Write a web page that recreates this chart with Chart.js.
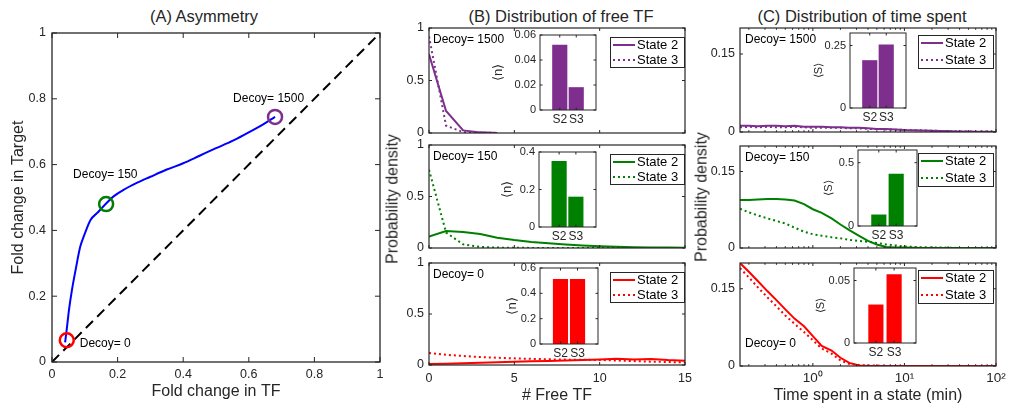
<!DOCTYPE html>
<html>
<head>
<meta charset="utf-8">
<script src="https://cdn.jsdelivr.net/npm/chart.js@4.4.1/dist/chart.umd.min.js"></script>
<style>
  body { margin: 0; width: 1014px; height: 409px; background: #fff; position: relative; overflow: hidden;
         font-family: 'Liberation Sans', Arial, Helvetica, sans-serif; }
  canvas { position: absolute; }
  .ttl { position: absolute; top: 6px; font-size: 16.5px; line-height: 20px; color: #262626;
         white-space: nowrap; transform: translateX(-50%); }
  .ylab { position: absolute; font-size: 16px; line-height: 19px; color: #262626; white-space: nowrap;
          transform: translate(-50%, -50%) rotate(-90deg); }
</style>
</head>
<body>
<div class="ttl" style="left:204px">(A) Asymmetry</div>
<div class="ttl" style="left:561px">(B) Distribution of free TF</div>
<div class="ttl" style="left:862px">(C) Distribution of time spent</div>
<script>
// ---------- data ----------
// (A) fold change curve
const foldTF     = [0.040, 0.045, 0.052, 0.061, 0.072, 0.086, 0.100, 0.117, 0.140, 0.165, 0.190, 0.218, 0.260, 0.300, 0.350, 0.400, 0.450, 0.500, 0.550, 0.594, 0.640, 0.680];
const foldTarget = [0.060, 0.100, 0.160, 0.220, 0.280, 0.350, 0.390, 0.431, 0.455, 0.482, 0.505, 0.523, 0.545, 0.563, 0.585, 0.604, 0.627, 0.650, 0.672, 0.695, 0.720, 0.745];
const decoyLevels  = [0, 150, 1500];
const markerTF     = [0.045, 0.165, 0.680];
const markerTarget = [0.066, 0.480, 0.745];
const diagonal = [0, 1];
const ticksA = [0, 0.2, 0.4, 0.6, 0.8, 1];

// (B) distribution of free TF
const freeTF = [0, 1, 2, 3, 4, 5, 6, 7, 8, 9, 10, 11, 12, 13, 14, 15];
const freeS2_1500 = [0.75, 0.21, 0.025, 0.006, 0.001, null, null, null, null, null, null, null, null, null, null, null];
const freeS3_1500 = [0.92, 0.07, 0.008, 0.002, 0.001, null, null, null, null, null, null, null, null, null, null, null];
const freeS2_150  = [0.11, 0.165, 0.155, 0.135, 0.10, 0.077, 0.058, 0.045, 0.033, 0.024, 0.017, 0.012, 0.008, 0.006, 0.004, 0.003];
const freeS3_150  = [0.76, 0.15, 0.035, 0.01, 0.004, 0.002, 0.001, 0, 0, 0, 0, 0, 0, 0, 0, 0];
const freeS2_0    = [0.01, 0.013, 0.017, 0.021, 0.026, 0.031, 0.036, 0.04, 0.045, 0.05, 0.055, 0.062, 0.055, 0.06, 0.048, 0.042];
const freeS3_0    = [0.117, 0.1, 0.088, 0.078, 0.071, 0.065, 0.06, 0.056, 0.053, 0.051, 0.049, 0.044, 0.038, 0.033, 0.029, 0.026];
const meanN_1500 = [0.052, 0.018];
const meanN_150  = [0.35, 0.16];
const meanN_0    = [0.51, 0.51];
const ticksBx = [0, 5, 10, 15];
const ticksBy = [0, 0.5, 1];
const ticksN_1500 = [0, 0.02, 0.04, 0.06];
const ticksN_150  = [0, 0.2, 0.4];
const ticksN_0    = [0, 0.2, 0.4, 0.6];

// (C) distribution of time spent (min)
const timeBins = [0.16, 0.2, 0.25, 0.32, 0.4, 0.5, 0.63, 0.8, 1, 1.25, 1.6, 2, 2.5, 3.2, 4, 5, 6.3, 8, 10, 12.6, 16, 20, 25, 32, 40, 50, 63, 80, 100];
const timeS2_1500 = [0.012, 0.012, 0.011, 0.012, 0.012, 0.011, 0.012, 0.010, 0.010, 0.010, 0.009, 0.009, 0.008, 0.008, 0.007, 0.006, 0.006, 0.005, 0.004, 0.0035, 0.003, 0.0025, 0.002, 0.0015, 0.001, 0.001, 0.0005, 0.0003, 0.0002];
const timeS3_1500 = [0.009, 0.010, 0.009, 0.010, 0.009, 0.009, 0.010, 0.009, 0.008, 0.008, 0.008, 0.008, 0.007, 0.007, 0.006, 0.006, 0.005, 0.0045, 0.004, 0.0035, 0.003, 0.0025, 0.002, 0.0015, 0.001, 0.001, 0.0005, 0.0003, 0.0002];
const timeS2_150  = [0.094, 0.094, 0.095, 0.096, 0.096, 0.095, 0.093, 0.086, 0.076, 0.069, 0.058, 0.046, 0.035, 0.024, 0.014, 0.007, 0.002, 0.001, 0.001, 0.0005, 0, 0, 0, 0, 0, 0, 0, 0, 0];
const timeS3_150  = [0.077, 0.070, 0.064, 0.058, 0.053, 0.048, 0.040, 0.032, 0.027, 0.024, 0.021, 0.019, 0.016, 0.014, 0.012, 0.010, 0.007, 0.005, 0.003, 0.002, 0.0015, 0.001, 0.001, 0.0005, 0, 0, 0, 0, 0];
const timeS2_0    = [0.200, 0.183, 0.165, 0.145, 0.128, 0.110, 0.092, 0.077, 0.058, 0.039, 0.030, 0.016, 0.006, 0.001, 0, 0, 0, 0, 0, 0, 0, 0, 0, 0, 0, 0, 0, 0, 0];
const timeS3_0    = [0.190, 0.172, 0.153, 0.133, 0.116, 0.098, 0.082, 0.066, 0.050, 0.034, 0.024, 0.011, 0.004, 0.002, 0.001, 0.001, 0, 0, 0, 0, 0, 0, 0, 0, 0, 0, 0, 0, 0];
const meanS_1500 = [0.19, 0.253];
const meanS_150  = [0.088, 0.41];
const meanS_0    = [0.0305, 0.0547];
const ticksCx = [1, 10, 100];
const ticksCy = [0, 0.15];
const ticksS_1500 = [0, 0.25];
const ticksS_150  = [0, 0.5];
const ticksS_0    = [0, 0.05];

const insetCats = ['S2', 'S3'];
const stateNames = ['State 2', 'State 3'];

// ---------- style ----------
const INK = '#262626';
const PURPLE = '#7E2F8E', GREEN = '#008000', RED = '#FF0000', BLUE = '#0000FF';
Chart.defaults.font.family = "'Liberation Sans', Arial, Helvetica, sans-serif";
Chart.defaults.color = INK;
Chart.defaults.animation = false;

// box with inward tick marks on all four sides (matlab look)
const frame = {
  id: 'frame',
  defaults: { len: 3, width: 1.2, fill: false },
  beforeDatasetsDraw(chart, args, o) {
    if (!o.fill) return;
    const a = chart.chartArea, ctx = chart.ctx;
    ctx.save();
    ctx.fillStyle = '#fff';
    ctx.fillRect(a.left, a.top, a.width, a.height);
    ctx.restore();
  },
  afterDatasetsDraw(chart, args, o) {
    const a = chart.chartArea, ctx = chart.ctx;
    ctx.save();
    ctx.strokeStyle = INK;
    ctx.lineWidth = 1;
    ctx.beginPath();
    Object.values(chart.scales).forEach(s => {
      const marks = s.ticks.map(t => [t.value, o.len]);
      if (s.type === 'logarithmic') {
        for (let d = -1; d <= 2; d++) {
          for (let k = 2; k <= 9; k++) {
            const v = k * Math.pow(10, d);
            if (v > s.min && v < s.max) marks.push([v, o.len * 0.6]);
          }
        }
      }
      marks.forEach(([v, len]) => {
        const p = s.getPixelForValue(v);
        if (s.isHorizontal()) {
          ctx.moveTo(p, a.bottom); ctx.lineTo(p, a.bottom - len);
          ctx.moveTo(p, a.top); ctx.lineTo(p, a.top + len);
        } else {
          ctx.moveTo(a.left, p); ctx.lineTo(a.left + len, p);
          ctx.moveTo(a.right, p); ctx.lineTo(a.right - len, p);
        }
      });
    });
    ctx.stroke();
    ctx.lineWidth = o.width;
    ctx.strokeRect(a.left, a.top, a.width, a.height);
    ctx.restore();
  }
};

// small boxed legend in the upper right corner
const boxLegend = {
  id: 'boxLegend',
  defaults: { show: false },
  afterDraw(chart, args, o) {
    if (!o.show) return;
    const a = chart.chartArea, ctx = chart.ctx;
    const x = a.right - o.dx - o.w, y = a.top + o.dy;
    ctx.save();
    ctx.fillStyle = '#fff';
    ctx.fillRect(x, y, o.w, o.h);
    ctx.strokeStyle = INK;
    ctx.lineWidth = 1;
    ctx.strokeRect(x + 0.5, y + 0.5, o.w, o.h);
    ctx.font = "13px 'Liberation Sans', Arial, sans-serif";
    ctx.textBaseline = 'middle';
    chart.data.datasets.forEach((ds, i) => {
      const ly = y + o.row0 + i * o.step;
      ctx.strokeStyle = ds.borderColor;
      ctx.lineWidth = ds.borderWidth;
      ctx.setLineDash(ds.borderDash || []);
      ctx.beginPath();
      ctx.moveTo(x + 3, ly); ctx.lineTo(x + 25, ly);
      ctx.stroke();
      ctx.setLineDash([]);
      ctx.fillStyle = '#000';
      ctx.fillText(ds.label, x + 27, ly + 0.5);
    });
    ctx.restore();
  }
};

// text notes, tied to a data point or placed from the top-left corner of the plot
const notes = {
  id: 'notes',
  defaults: { items: [] },
  afterDraw(chart, args, o) {
    const a = chart.chartArea, ctx = chart.ctx;
    ctx.save();
    ctx.font = "12px 'Liberation Sans', Arial, sans-serif";
    ctx.fillStyle = '#000';
    ctx.textBaseline = 'middle';
    o.items.forEach(it => {
      let x = a.left, y = a.top;
      const anchor = it.point;
      if (Array.isArray(anchor) || (anchor && typeof anchor === 'object' && anchor.length === 2)) {
        x = chart.scales.x.getPixelForValue(anchor[0]);
        y = chart.scales.y.getPixelForValue(anchor[1]);
      }
      ctx.fillText(it.text, x + it.dx, y + it.dy);
    });
    ctx.restore();
  }
};
Chart.register(frame, boxLegend, notes);

// ---------- helpers ----------
function mount(box, yw, xh, pad) {
  const c = document.createElement('canvas');
  const W = pad[3] + yw + box.w + pad[1], H = pad[0] + box.h + xh + pad[2];
  c.width = W; c.height = H;
  c.style.width = W + 'px'; c.style.height = H + 'px';
  c.style.left = (box.l - yw - pad[3]) + 'px';
  c.style.top = (box.t - pad[0]) + 'px';
  document.body.appendChild(c);
  return c;
}

function axis(o) {
  return {
    type: o.type || 'linear',
    min: o.min, max: o.max,
    offset: false,
    grid: { display: false, drawTicks: false, tickLength: 0 },
    border: { display: false },
    title: o.title
      ? { display: true, text: o.title, color: INK, font: { size: o.titleSize || 16 }, padding: { top: 4, bottom: 4 } }
      : { display: false },
    ticks: {
      display: o.labels !== false, autoSkip: false, maxRotation: 0, minRotation: 0,
      padding: o.pad, font: { size: o.size || 12.5 }, color: INK,
      callback: o.fmt || (v => String(v))
    },
    afterBuildTicks: s => { s.ticks = o.ticks.map(v => ({ value: v })); },
    afterFit: s => {
      if (s.isHorizontal()) s.height = o.space; else s.width = o.space;
      s.paddingLeft = s.paddingRight = s.paddingTop = s.paddingBottom = 0;
    }
  };
}

function series(label, xs, ys, color, dotted) {
  return {
    label, data: xs.map((x, i) => ({ x, y: ys[i] })),
    borderColor: color, backgroundColor: color, borderWidth: 2,
    borderDash: dotted ? [2, 3] : [], pointRadius: 0, showLine: true
  };
}

function plot(box, yw, xh, pad, datasets, x, y, plugins) {
  return new Chart(mount(box, yw, xh, pad), {
    type: 'scatter',
    data: { datasets },
    options: {
      responsive: false, animation: false,
      layout: { padding: { top: pad[0], right: pad[1], bottom: pad[2], left: pad[3] } },
      scales: { x, y },
      plugins: Object.assign({ legend: { display: false }, tooltip: { enabled: false } }, plugins)
    }
  });
}

function inset(box, yw, vals, yMax, ticks, color, yLabel, labelSize) {
  return new Chart(mount(box, yw, 16, [8, 4, 2, 0]), {
    type: 'bar',
    data: { datasets: [{ data: vals.map((v, i) => ({ x: i + 1, y: v })), backgroundColor: color, borderWidth: 0, barThickness: 14.5 }] },
    options: {
      responsive: false, animation: false,
      layout: { padding: { top: 8, right: 4, bottom: 2, left: 0 } },
      scales: {
        x: axis({ min: -0.2, max: 3.2, ticks: insetCats.map((c, i) => i + 1), fmt: v => insetCats[v - 1], space: 16, pad: 2, size: 12 }),
        y: axis({ min: 0, max: yMax, ticks, space: yw, pad: 4, size: 11, title: yLabel, titleSize: labelSize })
      },
      plugins: { legend: { display: false }, tooltip: { enabled: false }, frame: { len: 2.5, width: 1, fill: true } }
    }
  });
}

function sideLabel(text, x, y) {
  const d = document.createElement('div');
  d.className = 'ylab';
  d.textContent = text;
  d.style.left = x + 'px';
  d.style.top = y + 'px';
  document.body.appendChild(d);
}

// ---------- (A) asymmetry ----------
plot({ l: 52, t: 33, w: 328, h: 329 }, 47, 43, [10, 23, 0, 0], [
  {
    label: 'decoy', data: markerTF.map((x, i) => ({ x, y: markerTarget[i] })),
    pointRadius: 7, pointBorderWidth: 2.5, pointBackgroundColor: 'rgba(0,0,0,0)',
    pointBorderColor: [RED, GREEN, PURPLE], showLine: false
  },
  Object.assign(series('fold', foldTF, foldTarget, BLUE, false), { cubicInterpolationMode: 'monotone' }),
  Object.assign(series('diag', diagonal, diagonal, '#000', false), { borderDash: [10, 6] })
],
  axis({ min: 0, max: 1, ticks: ticksA, title: 'Fold change in TF', space: 43, pad: 5 }),
  axis({ min: 0, max: 1, ticks: ticksA, title: 'Fold change in Target', space: 47, pad: 6 }),
  {
    frame: { len: 5, width: 1.3 },
    notes: { items: [
      { text: 'Decoy= ' + decoyLevels[0], point: [markerTF[0], markerTarget[0]], dx: 13, dy: 3 },
      { text: 'Decoy= ' + decoyLevels[1], point: [markerTF[1], markerTarget[1]], dx: -33, dy: -29 },
      { text: 'Decoy= ' + decoyLevels[2], point: [markerTF[2], markerTarget[2]], dx: -42, dy: -18 }
    ] }
  });

// ---------- (B) free TF ----------
const boxesB = [{ l: 429, t: 28, w: 256, h: 105 }, { l: 429, t: 145, w: 256, h: 103 }, { l: 429, t: 263, w: 256, h: 102 }];
const freeSets = [[freeS2_1500, freeS3_1500, PURPLE], [freeS2_150, freeS3_150, GREEN], [freeS2_0, freeS3_0, RED]];
freeSets.forEach(([s2, s3, col], i) => {
  const last = i === 2;
  plot(boxesB[i], 49, last ? 44 : 2, [10, last ? 10 : 6, last ? 0 : 4, 0], [
    series(stateNames[0], freeTF, s2, col, false),
    series(stateNames[1], freeTF, s3, col, true)
  ],
    axis({ min: 0, max: 15, ticks: ticksBx, labels: last, title: last ? '# Free TF' : null, space: last ? 44 : 2, pad: 6 }),
    axis({ min: 0, max: 1, ticks: ticksBy, space: 49, pad: 5 }),
    {
      boxLegend: { show: true, dx: 1, dy: 9, w: 74, h: 30, row0: 8, step: 15 },
      notes: { items: [{ text: 'Decoy= ' + decoyLevels[2 - i], dx: 4, dy: 12 }] }
    });
});
sideLabel('Probability density', 392, 199);

// ---------- (C) time spent ----------
const boxesC = [{ l: 740, t: 28, w: 256, h: 104 }, { l: 740, t: 146, w: 256, h: 102 }, { l: 740, t: 263, w: 256, h: 103 }];
const timeSets = [[timeS2_1500, timeS3_1500, PURPLE], [timeS2_150, timeS3_150, GREEN], [timeS2_0, timeS3_0, RED]];
const supDigits = ['\u2070', '\u00B9', '\u00B2'];
timeSets.forEach(([s2, s3, col], i) => {
  const last = i === 2;
  plot(boxesC[i], 52, last ? 43 : 2, [10, last ? 14 : 6, last ? 0 : 4, 0], [
    series(stateNames[0], timeBins, s2, col, false),
    series(stateNames[1], timeBins, s3, col, true)
  ],
    axis({ type: 'logarithmic', min: 0.16, max: 100, ticks: ticksCx, labels: last, size: 13.5,
           fmt: v => '10' + supDigits[Math.round(Math.log10(v))],
           title: last ? 'Time spent in a state (min)' : null, space: last ? 43 : 2, pad: 4 }),
    axis({ min: 0, max: 0.2, ticks: ticksCy, space: 52, pad: 5 }),
    {
      boxLegend: { show: true, dx: 3, dy: 7, w: 75, h: 33, row0: 8, step: 17 },
      notes: { items: [{ text: 'Decoy= ' + decoyLevels[2 - i], dx: 5, dy: last ? boxesC[i].h - 22 : 12 }] }
    });
});
sideLabel('Probability density', 701, 197);

// ---------- insets ----------
inset({ l: 540, t: 35, w: 56, h: 75 }, 53, meanN_1500, 0.06, ticksN_1500, PURPLE, '\u27E8n\u27E9', 13);
inset({ l: 539, t: 152, w: 57, h: 75 }, 43, meanN_150, 0.4, ticksN_150, GREEN, '\u27E8n\u27E9', 13);
inset({ l: 540, t: 268, w: 58, h: 76 }, 39, meanN_0, 0.6, ticksN_0, RED, '\u27E8n\u27E9', 13);
inset({ l: 850, t: 33, w: 56, h: 75 }, 42, meanS_1500, 0.3, ticksS_1500, PURPLE, '\u27E8S\u27E9', 11);
inset({ l: 858, t: 150, w: 59, h: 76 }, 40, meanS_150, 0.6, ticksS_150, GREEN, '\u27E8S\u27E9', 11);
inset({ l: 854, t: 268, w: 62, h: 75 }, 44, meanS_0, 0.06, ticksS_0, RED, '\u27E8S\u27E9', 11);
</script>
</body>
</html>
